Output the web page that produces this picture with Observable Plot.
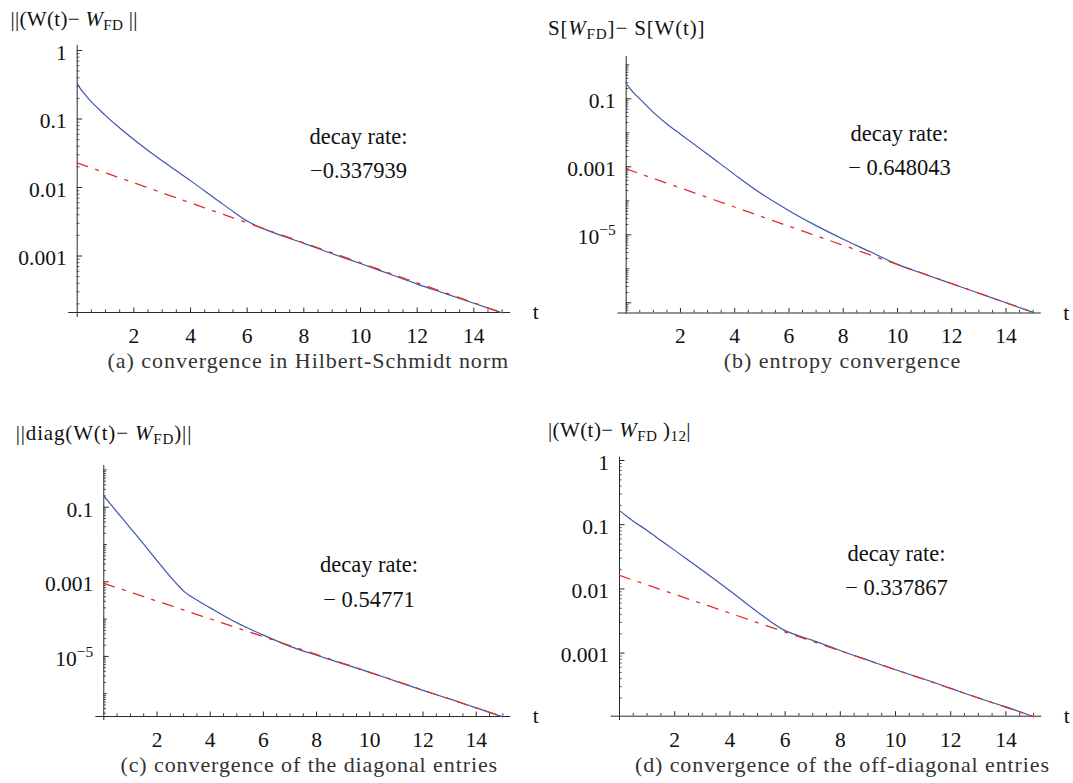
<!DOCTYPE html>
<html>
<head>
<meta charset="utf-8">
<script src="https://cdn.jsdelivr.net/npm/d3@7"></script>
<script src="https://cdn.jsdelivr.net/npm/@observablehq/plot@0.6"></script>
<style>
html, body { margin: 0; padding: 0; background: #fff; }
#fig { position: relative; width: 1073px; height: 783px; overflow: hidden; background: #fff; }
#fig svg { position: absolute; overflow: visible; }
#fig svg text { font-family: "Liberation Serif", "Times New Roman", Times, serif !important; }
</style>
</head>
<body>
<div id="fig"></div>
<script>
// ---------- data ----------
// (a) Hilbert-Schmidt norm
const tHS = [0, 0.1, 0.25, 0.5, 0.75, 1, 1.5, 2, 2.5, 3, 3.5, 4, 4.5, 5, 5.5, 6, 6.5, 7, 8, 9, 10, 11, 12, 13, 14, 15];
const normHS = [0.331, 0.282, 0.234, 0.178, 0.141, 0.112, 0.0741, 0.0501, 0.0347, 0.0245, 0.0176, 0.0126,
  0.00891, 0.00631, 0.00447, 0.00324, 0.00257, 0.00214, 0.00153, 0.00108, 7.76e-4, 5.50e-4, 3.89e-4, 2.82e-4,
  2.04e-4, 1.48e-4];
const fitT = [0, 15];
const fitHS = [0.0229, 1.48e-4];

// (b) entropy
const tS = [0, 0.1, 0.25, 0.5, 1, 1.5, 2, 3, 4, 5, 6, 7, 8, 9, 9.5, 10, 11, 12, 13, 14, 15];
const entS = [0.282, 0.219, 0.158, 0.1, 0.0398, 0.0182, 0.00912, 0.00234, 5.89e-4, 1.58e-4, 5.13e-5, 1.86e-5,
  7.41e-6, 3.16e-6, 2.04e-6, 1.35e-6, 6.92e-7, 3.63e-7, 1.91e-7, 1.0e-7, 5.25e-8];
const fitS = [8.71e-4, 5.25e-8];

// (c) diagonal entries
const tD = [0, 0.25, 0.5, 1, 1.5, 2, 2.5, 2.8, 3, 3.25, 3.5, 4, 5, 6, 7, 8, 9, 10, 11, 12, 13, 14, 15];
const diagD = [0.1995, 0.1216, 0.0741, 0.0275, 0.01023, 0.00372, 0.00138, 7.94e-4, 5.62e-4, 4.17e-4, 3.24e-4,
  2.0e-4, 7.94e-5, 3.72e-5, 1.86e-5, 1.07e-5, 6.31e-6, 3.72e-6, 2.14e-6, 1.23e-6, 7.24e-7, 4.17e-7, 2.40e-7];
const fitD = [9.12e-4, 2.40e-7];

// (d) off-diagonal entries
const tO = [0, 0.25, 0.5, 1, 1.5, 2, 3, 4, 5, 6, 6.5, 7, 7.5, 8, 9, 10, 11, 12, 13, 14, 15];
const offO = [0.166, 0.1365, 0.1135, 0.0813, 0.0569, 0.0398, 0.0195, 0.00933, 0.00437, 0.00224, 0.00186, 0.00158,
  0.00132, 0.0011, 7.76e-4, 5.50e-4, 3.98e-4, 2.82e-4, 2.0e-4, 1.45e-4, 1.02e-4];
const fitO = [0.0162, 1.02e-4];

// decay rates
const decayRates = ["−0.337939", "− 0.648043", "− 0.54771", "− 0.337867"];

// tick labels
const xTickLabels = [2, 4, 6, 8, 10, 12, 14];
const yTicksNorm = [1, 0.1, 0.01, 0.001];
const yTickNormLabels = ["1", "0.1", "0.01", "0.001"];
const yTicksWide = [0.1, 0.001, 1e-5];
const yTickWideLabels = ["0.1", "0.001", "10^{−5}"];
const yUnlabeledMajorS = [1e-7];

// texts (markup: *..* italic, _{..} subscript, ^{..} superscript)
const yTitles = [
  "||(W(t)− *W*_{FD} ||",
  "S[*W*_{FD}]− S[W(t)]",
  "||diag(W(t)− *W*_{FD})||",
  "|(W(t)− *W*_{FD} )_{12}|"
];
const captions = [
  "(a) convergence in Hilbert-Schmidt norm",
  "(b) entropy convergence",
  "(c) convergence of the diagonal entries",
  "(d) convergence of the off-diagonal entries"
];

// ---------- layout (page pixels) ----------
const FONT = "Liberation Serif, Times New Roman, Times, serif";
const BLUE = "#3c56ab";
const RED = "#e52b2b";
const AX = "#2a2a2a";

const panels = [
  { geo: {left: 0, top: 0, w: 536, h: 392, x0: 76.7, px: 28.33, refV: 1, refY: 50, dec: 68.5, yTop: 45, yBot: 317, axisY: 312},
    t: tHS, v: normHS, fit: fitHS, ticks: yTicksNorm, tickLabels: yTickNormLabels, extraMajor: [],
    title: yTitles[0], titlePos: [10, 25, 127], ann: [358, 177.6], rate: decayRates[0],
    caption: captions[0], capPos: [307.4, 367, 400.7] },
  { geo: {left: 536, top: 0, w: 537, h: 392, x0: 625.7, px: 27.13, refV: 0.1, refY: 98.3, dec: 34, yTop: 56, yBot: 313.5, axisY: 312.5},
    t: tS, v: entS, fit: fitS, ticks: yTicksWide, tickLabels: yTickWideLabels, extraMajor: yUnlabeledMajorS,
    title: yTitles[1], titlePos: [547.4, 34, 156.6], ann: [899, 174.3], rate: decayRates[1],
    caption: captions[1], capPos: [841.5, 367, 236.7] },
  { geo: {left: 0, top: 392, w: 536, h: 391, x0: 103.3, px: 26.6, refV: 0.1, refY: 506.7, dec: 37.3, yTop: 465, yBot: 720, axisY: 716},
    t: tD, v: diagD, fit: fitD, ticks: yTicksWide, tickLabels: yTickWideLabels, extraMajor: [],
    title: yTitles[2], titlePos: [15.2, 439.3, 175.7], ann: [368.5, 606], rate: decayRates[2],
    caption: captions[2], capPos: [308.3, 771.5, 376.7] },
  { geo: {left: 536, top: 392, w: 537, h: 391, x0: 619, px: 27.6, refV: 1, refY: 460, dec: 64.2, yTop: 456.7, yBot: 720, axisY: 715.7},
    t: tO, v: offO, fit: fitO, ticks: yTicksNorm, tickLabels: yTickNormLabels, extraMajor: [],
    title: yTitles[3], titlePos: [547.4, 436, 142.7], ann: [896, 594.3], rate: decayRates[3],
    caption: captions[3], capPos: [841.5, 771, 414.2] }
];

const NS = "http://www.w3.org/2000/svg";
function richify(el) {
  const s = el.textContent;
  if (!/(\*|_\{|\^\{)/.test(s)) return;
  const fs = parseFloat(el.getAttribute("font-size") || el.parentNode.getAttribute("font-size") || 21);
  const parts = s.split(/(\*[^*]+\*|_\{[^}]*\}|\^\{[^}]*\})/g).filter(p => p !== "");
  el.textContent = "";
  let shift = 0;
  for (const p of parts) {
    const ts = document.createElementNS(NS, "tspan");
    let target = 0;
    if (p.startsWith("*")) {
      ts.textContent = p.slice(1, -1);
      ts.setAttribute("font-style", "italic");
    } else if (p.startsWith("_{")) {
      ts.textContent = p.slice(2, -1);
      ts.setAttribute("font-size", (fs * 0.72).toFixed(2));
      target = fs * 0.22;
    } else if (p.startsWith("^{")) {
      ts.textContent = p.slice(2, -1);
      ts.setAttribute("font-size", (fs * 0.72).toFixed(2));
      target = -fs * 0.42;
    } else {
      ts.textContent = p;
    }
    const dy = target - shift;
    if (dy !== 0) ts.setAttribute("dy", dy.toFixed(2));
    shift = target;
    el.appendChild(ts);
  }
}

const fig = document.getElementById("fig");

panels.forEach((P) => {
  const g = P.geo;
  const mL = g.x0 - 0.3 * g.px - g.left;
  const mR = g.left + g.w - (g.x0 + 15.3 * g.px);
  const mT = g.yTop - g.top;
  const mB = g.top + g.h - g.yBot;
  const yLo = g.refV * Math.pow(10, -(g.yBot - g.refY) / g.dec);
  const yHi = g.refV * Math.pow(10, (g.refY - g.yTop) / g.dec);
  const axisVal = g.refV * Math.pow(10, -(g.axisY - g.refY) / g.dec);
  const up = len => axisVal * Math.pow(10, len / g.dec);
  const ax = len => len / g.px;

  const series = P.t.map((t, i) => ({t, v: P.v[i]}));
  const fitLine = fitT.map((t, i) => ({t, v: P.fit[i]}));

  const xMinor = d3.range(0.5, 15.01, 0.5).filter(d => !xTickLabels.includes(d));
  const kLo = Math.floor(Math.log10(yLo)), kHi = Math.ceil(Math.log10(yHi));
  const yMinor = [], yDecade = [];
  const isIn = (arr, v) => arr.some(t => Math.abs(t / v - 1) < 1e-6);
  for (let k = kLo; k <= kHi; k++) {
    const dv = Math.pow(10, k);
    if (dv >= axisVal && dv <= yHi && !isIn(P.ticks, dv) && !isIn(P.extraMajor, dv)) yDecade.push(dv);
    for (let m = 2; m <= 9; m++) {
      const v = m * dv;
      if (v >= axisVal && v <= yHi) yMinor.push(v);
    }
  }
  const yLabeled = P.ticks.map((v, i) => ({v, label: P.tickLabels[i]}));

  const svg = Plot.plot({
    width: g.w,
    height: g.h,
    marginLeft: mL,
    marginRight: mR,
    marginTop: mT,
    marginBottom: mB,
    style: {background: "transparent", overflow: "visible", fontFamily: FONT},
    x: {domain: [-0.3, 15.3], axis: null},
    y: {type: "log", domain: [yLo, yHi], axis: null},
    marks: [
      // axis lines
      Plot.ruleY([axisVal], {stroke: AX, strokeWidth: 1}),
      Plot.ruleX([0], {stroke: AX, strokeWidth: 1}),
      // x ticks
      Plot.ruleX(xMinor, {x: d => d, y1: () => axisVal, y2: () => up(2.7), stroke: AX, strokeWidth: 0.9}),
      Plot.ruleX(xTickLabels, {x: d => d, y1: () => axisVal, y2: () => up(4.5), stroke: AX, strokeWidth: 1}),
      // y ticks
      Plot.ruleY(yMinor, {y: d => d, x1: () => 0, x2: () => ax(2.7), stroke: AX, strokeWidth: 0.8}),
      Plot.ruleY(yDecade, {y: d => d, x1: () => 0, x2: () => ax(3.6), stroke: AX, strokeWidth: 0.9}),
      Plot.ruleY(P.ticks.concat(P.extraMajor), {y: d => d, x1: () => 0, x2: () => ax(5.5), stroke: AX, strokeWidth: 1}),
      // tick labels
      Plot.text(xTickLabels, {x: d => d, y: () => axisVal, dy: 23.5, text: d => String(d), lineAnchor: "middle",
        fontSize: 21.5, fontFamily: FONT, fill: "#111"}),
      Plot.text(yLabeled, {x: () => 0, y: d => d.v, dx: -10.5, dy: 2.5, text: d => d.label, textAnchor: "end",
        lineAnchor: "middle", fontSize: 21.5, fontFamily: FONT, fill: "#111"}),
      Plot.text(["t"], {x: () => 15.3, y: () => axisVal, dx: 25, text: d => d, lineAnchor: "middle",
        fontSize: 21.5, fontFamily: FONT, fill: "#111"}),
      // data
      Plot.line(series, {x: "t", y: "v", stroke: BLUE, strokeWidth: 1.2, curve: "monotone-x"}),
      Plot.line(fitLine, {x: "t", y: "v", stroke: RED, strokeWidth: 1.3, strokeDasharray: "11,8.5,3,8.5"}),
      // annotation
      Plot.text(["decay rate:\n" + P.rate], {frameAnchor: "top-left", dx: P.ann[0] - g.left - mL, dy: P.ann[1] - g.top - mT,
        text: d => d, textAnchor: "middle", lineAnchor: "bottom", lineHeight: 1.52, fontSize: 22.5, fontFamily: FONT, fill: "#111"}),
      // y title
      Plot.text([P.title], {frameAnchor: "top-left", dx: P.titlePos[0] - g.left - mL, dy: P.titlePos[1] - g.top - mT,
        text: d => d, textAnchor: "start", lineAnchor: "bottom", fontSize: 21, fontFamily: FONT, fill: "#111"}),
      // caption
      Plot.text([P.caption], {frameAnchor: "top-left", dx: P.capPos[0] - g.left - mL, dy: P.capPos[1] - g.top - mT,
        text: d => d, textAnchor: "middle", lineAnchor: "bottom", fontSize: 22, fontFamily: FONT, fill: "#333"})
    ]
  });
  svg.style.left = g.left + "px";
  svg.style.top = g.top + "px";
  svg.querySelectorAll("text").forEach(el => {
    const s = el.textContent;
    if (s === P.caption) { el.setAttribute("textLength", P.capPos[2]); el.setAttribute("lengthAdjust", "spacing"); }
    if (s === P.title) { el.setAttribute("textLength", P.titlePos[2]); el.setAttribute("lengthAdjust", "spacing"); }
    richify(el);
  });
  fig.appendChild(svg);
});
</script>
</body>
</html>
